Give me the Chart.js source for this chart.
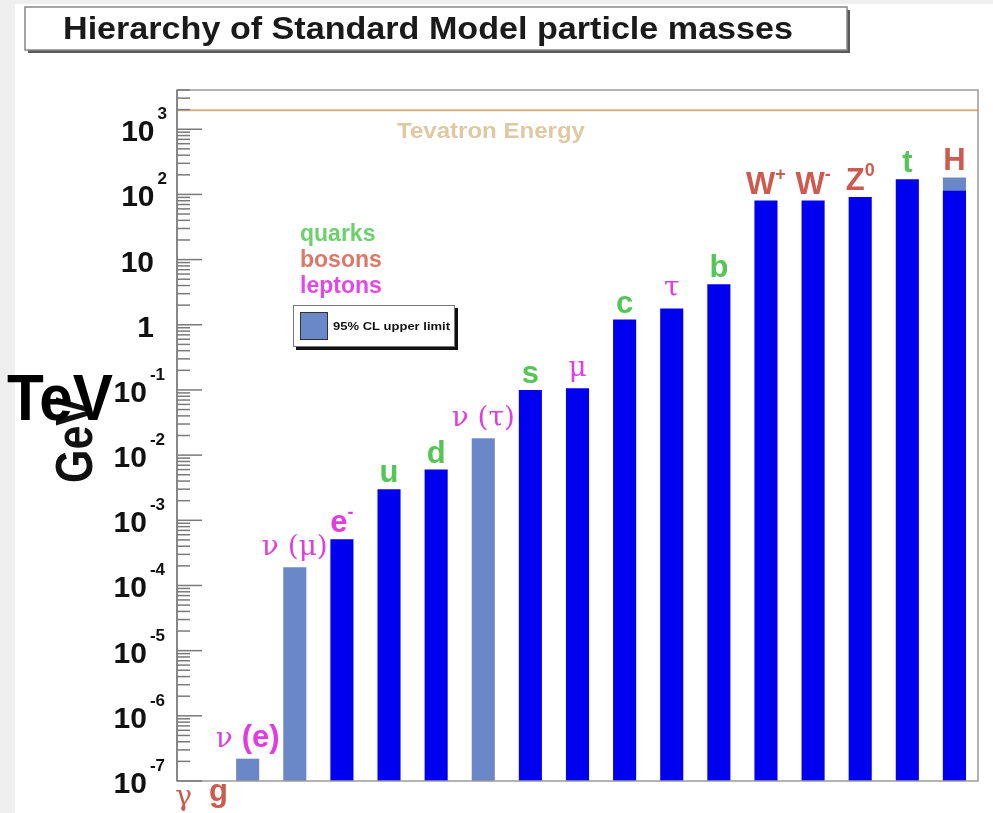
<!DOCTYPE html>
<html>
<head>
<meta charset="utf-8">
<title>Hierarchy of Standard Model particle masses</title>
<script src="https://cdn.jsdelivr.net/npm/chart.js@4.4.1/dist/chart.umd.min.js"></script>
<style>
  html, body { margin: 0; padding: 0; background: #efefef; }
  #wrap { width: 993px; height: 813px; }
</style>
</head>
<body>
<div id="wrap"><canvas id="massChart" width="993" height="813"></canvas></div>
<script>
// first slot holds the massless photon and gluon
const categories = ["γ g", "ν(e)", "ν(μ)", "e-", "u", "d", "ν(τ)", "s", "μ", "c", "τ", "b", "W+", "W-", "Z0", "t", "H"];
// masses in GeV
const massValues = [null, null, null, 0.000511, 0.003, 0.006, null, 0.1, 0.106, 1.2, 1.78, 4.2, 80.4, 80.4, 91.2, 171, 114];
// 95% CL upper limits in GeV
const upperLimits = [null, 2.2e-7, 1.9e-4, null, null, null, 0.0182, null, null, null, null, null, null, null, null, null, 182];

const particleNames = ["", "ν (e)", "ν (μ)", "e", "u", "d", "ν (τ)", "s", "μ", "c", "τ", "b", "W", "W", "Z", "t", "H"];
const particleSups = ["", "", "", "-", "", "", "", "", "", "", "", "", "+", "-", "0", "", ""];
const particleKinds = ["boson", "lepton", "lepton", "lepton", "quark", "quark", "lepton", "quark", "lepton", "quark", "lepton", "quark", "boson", "boson", "boson", "quark", "boson"];
const kindLabels = ["quarks", "bosons", "leptons"];

const tevatronEnergy = 1960;
const yMin = 1e-7;
const yMax = 4000;

const kindColors = { quark: "#55c655", boson: "#cc5a4e", lepton: "#e03ce0" };
const legendColors = ["#6cd06c", "#dc7868", "#e048e8"];
const darkBlue = "#0000f0";
const limitBlue = "#6a88c8";

const SANS = "'Liberation Sans', Arial, sans-serif";
const NARROW = "'Liberation Sans Narrow', 'Liberation Sans', Arial, sans-serif";
const SERIF = "'DejaVu Serif', serif";

// draw text squeezed/stretched to a given width
function fitText(ctx, text, x, y, width) {
  const w = ctx.measureText(text).width;
  ctx.save();
  ctx.translate(x, y);
  ctx.scale(width / w, 1);
  ctx.fillText(text, 0, 0);
  ctx.restore();
}

function drawParticleLabel(ctx, name, sup, cx, baseline, color) {
  const greek = /[α-ω]/;
  const chars = [...name];
  const segs = chars.map((ch, i) => {
    let serif = greek.test(ch) || ch === " ";
    if (ch === "(") serif = greek.test(chars[i + 1] || "");
    if (ch === ")") serif = greek.test(chars[i - 1] || "");
    return { t: ch, font: serif ? "28px " + SERIF : "bold 31px " + SANS };
  });
  if (sup) segs.push({ t: sup, font: "bold 18px " + SANS, sup: true });
  let total = 0;
  segs.forEach(s => { ctx.font = s.font; s.w = ctx.measureText(s.t).width; total += s.w; });
  let x = cx - total / 2;
  ctx.fillStyle = color;
  ctx.textAlign = "left";
  ctx.textBaseline = "alphabetic";
  segs.forEach(s => {
    ctx.font = s.font;
    ctx.fillText(s.t, x, s.sup ? baseline - 14 : baseline);
    x += s.w;
  });
}

const decor = {
  id: "decor",
  beforeDraw(chart) {
    const ctx = chart.ctx;
    ctx.save();
    ctx.fillStyle = "#efefef";
    ctx.fillRect(0, 0, chart.width, chart.height);
    ctx.fillStyle = "#ffffff";
    ctx.fillRect(15, 4, chart.width - 15, chart.height - 4);
    ctx.restore();
  },
  afterDraw(chart) {
    const ctx = chart.ctx;
    const area = chart.chartArea;
    const xs = chart.scales.x;
    const ys = chart.scales.y;
    ctx.save();

    // tevatron energy line
    const ty = ys.getPixelForValue(tevatronEnergy);
    ctx.strokeStyle = "#d8b084";
    ctx.lineWidth = 2;
    ctx.beginPath();
    ctx.moveTo(area.left, ty);
    ctx.lineTo(area.right, ty);
    ctx.stroke();
    ctx.fillStyle = "#dfc9a3";
    ctx.font = "bold 22px " + SANS;
    ctx.textBaseline = "alphabetic";
    fitText(ctx, "Tevatron Energy", 397, ty + 28, 188);

    // frame
    ctx.strokeStyle = "#9a9a9a";
    ctx.lineWidth = 1.5;
    ctx.strokeRect(area.left, area.top, area.right - area.left, area.bottom - area.top);
    ctx.strokeStyle = "#888";
    ctx.lineWidth = 2;
    ctx.beginPath();
    ctx.moveTo(area.left, area.top);
    ctx.lineTo(area.left, area.bottom);
    ctx.stroke();

    // y tick marks and labels from the log scale
    ctx.strokeStyle = "#7a7a7a";
    ctx.lineWidth = 1.5;
    ys.ticks.forEach(t => {
      const y = ys.getPixelForValue(t.value);
      if (y < area.top - 0.5 || y > area.bottom + 0.5) return;
      const e = Math.log10(t.value);
      const decade = Math.abs(e - Math.round(e)) < 1e-6;
      ctx.beginPath();
      ctx.moveTo(area.left, y);
      ctx.lineTo(area.left + (decade ? 25 : 13), y);
      ctx.stroke();
      if (!decade) return;
      const n = Math.round(e);
      ctx.fillStyle = "#111";
      ctx.textBaseline = "alphabetic";
      ctx.textAlign = "right";
      if (n === 0 || n === 1) {
        ctx.font = "bold 30px " + SANS;
        ctx.fillText(n === 0 ? "1" : "10", 154, y + 12);
      } else {
        const exp = String(n);
        ctx.font = "bold 17px " + SANS;
        const right = n > 0 ? 167 : 165;
        ctx.fillText(exp, right, y - 10);
        const ew = ctx.measureText(exp).width;
        ctx.font = "bold 30px " + SANS;
        ctx.fillText("10", right - ew - 3, y + 12);
      }
    });

    // particle labels above the bars
    categories.forEach((c, i) => {
      if (!particleNames[i]) return;
      const vals = [massValues[i], upperLimits[i]].filter(v => v !== null);
      const top = Math.min(...vals.map(v => ys.getPixelForValue(v)));
      const gap = /[α-ω]/.test(particleNames[i]) ? 12 : 7;
      drawParticleLabel(ctx, particleNames[i], particleSups[i], xs.getPixelForValue(i), top - gap, kindColors[particleKinds[i]]);
    });
    // photon and gluon below the axis, first slot
    const x0 = xs.getPixelForValue(0);
    drawParticleLabel(ctx, "γ", "", x0 - 17, area.bottom + 24, kindColors.boson);
    drawParticleLabel(ctx, "g", "", x0 + 18, area.bottom + 20, kindColors.boson);

    // kind legend
    ctx.textAlign = "left";
    ctx.font = "bold 23px " + SANS;
    kindLabels.forEach((k, i) => {
      ctx.fillStyle = legendColors[i];
      ctx.fillText(k, 300, 241 + i * 26);
    });

    // upper limit legend box
    ctx.fillStyle = "#111";
    ctx.fillRect(296, 308, 162, 42);
    ctx.fillStyle = "#fff";
    ctx.fillRect(293, 305, 162, 42);
    ctx.strokeStyle = "#777";
    ctx.lineWidth = 1;
    ctx.strokeRect(293.5, 305.5, 161, 41);
    ctx.fillStyle = limitBlue;
    ctx.fillRect(300, 312, 28, 28);
    ctx.strokeStyle = "#333";
    ctx.strokeRect(300.5, 312.5, 27, 27);
    ctx.fillStyle = "#111";
    ctx.font = "bold 11px " + SANS;
    ctx.textBaseline = "middle";
    fitText(ctx, "95% CL upper limit", 333, 327, 117);

    // axis title, then the TeV overlay
    ctx.save();
    ctx.translate(92, 440);
    ctx.rotate(-Math.PI / 2);
    ctx.scale(1, 1.2);
    ctx.fillStyle = "#111";
    ctx.font = "bold 43px " + SANS;
    ctx.textAlign = "center";
    ctx.textBaseline = "alphabetic";
    ctx.fillText("GeV", 0, 0);
    ctx.restore();

    ctx.fillStyle = "#000";
    ctx.font = "bold 64px " + SANS;
    ctx.textAlign = "left";
    ctx.textBaseline = "alphabetic";
    fitText(ctx, "TeV", 7, 420, 106);

    // title box
    ctx.fillStyle = "#5a5a5a";
    ctx.fillRect(28, 10, 822, 43);
    ctx.fillStyle = "#fff";
    ctx.fillRect(25, 7, 822, 43);
    ctx.strokeStyle = "#888";
    ctx.lineWidth = 1.5;
    ctx.strokeRect(25, 7, 822, 43);
    ctx.fillStyle = "#1a1a1a";
    ctx.font = "bold 31px " + NARROW;
    ctx.textBaseline = "alphabetic";
    fitText(ctx, "Hierarchy of Standard Model particle masses", 63, 39, 730);

    ctx.restore();
  }
};

const chart = new Chart(document.getElementById("massChart"), {
  type: "bar",
  data: {
    labels: categories,
    datasets: [
      {
        label: "mass",
        data: massValues,
        backgroundColor: darkBlue,
        grouped: false,
        barPercentage: 0.49,
        categoryPercentage: 1.0
      },
      {
        label: "95% CL upper limit",
        data: upperLimits,
        backgroundColor: limitBlue,
        grouped: false,
        barPercentage: 0.49,
        categoryPercentage: 1.0
      }
    ]
  },
  options: {
    responsive: false,
    animation: false,
    devicePixelRatio: 1,
    layout: { padding: { top: 90, right: 15, left: 0, bottom: 0 } },
    plugins: {
      legend: { display: false },
      title: { display: false },
      tooltip: { enabled: false }
    },
    scales: {
      x: {
        grid: { display: false },
        border: { display: false },
        ticks: { display: false },
        afterFit(scale) { scale.height = 32; }
      },
      y: {
        type: "logarithmic",
        min: yMin,
        max: yMax,
        grid: { display: false },
        border: { display: false },
        ticks: { display: false },
        afterBuildTicks(scale) {
          const ticks = [];
          for (let e = -7; e <= 3; e++) {
            for (let k = 1; k <= 9; k++) {
              const v = k * Math.pow(10, e);
              if (v <= yMax) ticks.push({ value: v });
            }
          }
          scale.ticks = ticks;
        },
        afterFit(scale) { scale.width = 177; }
      }
    }
  },
  plugins: [decor]
});
</script>
</body>
</html>
